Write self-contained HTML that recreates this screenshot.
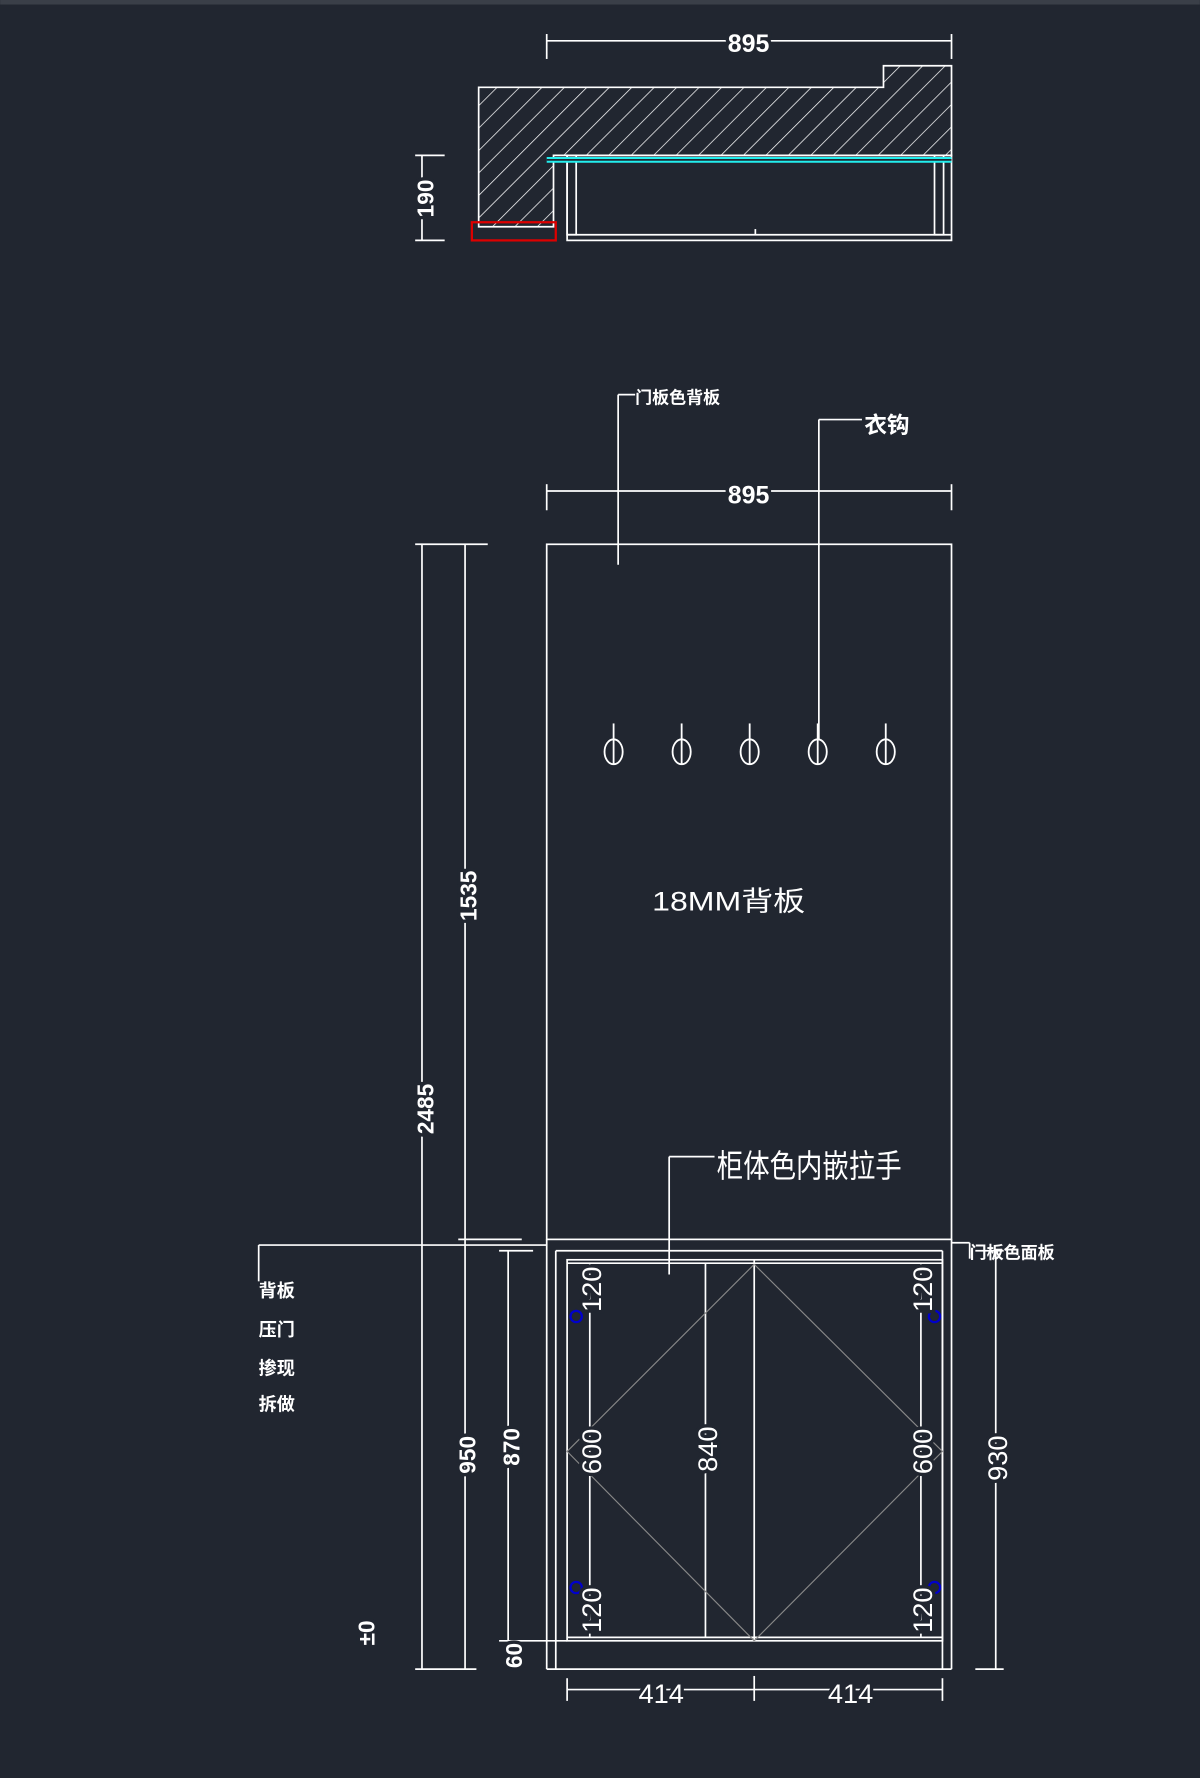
<!DOCTYPE html>
<html><head><meta charset="utf-8"><style>
html,body{margin:0;padding:0;background:#212630;}
svg{display:block}
text{font-family:"Liberation Sans","Noto Sans CJK SC",sans-serif;fill:#fff}
</style></head><body>
<svg width="1200" height="1778" viewBox="0 0 1058 1568" xmlns="http://www.w3.org/2000/svg">
<defs>
<pattern id="h" width="14" height="14" patternUnits="userSpaceOnUse" patternTransform="rotate(45)">
<line x1="0" y1="0" x2="0" y2="14" stroke="#fff" stroke-width="1.3"/>
</pattern>
</defs>
<rect width="1058" height="1568" fill="#212630"/>
<rect x="0" y="0" width="1058" height="4" fill="#3a3f48"/>
<g stroke="#fff" stroke-width="1.5" fill="none">
<line x1="482" y1="36" x2="839" y2="36"/>
<line x1="482" y1="30" x2="482" y2="52"/><line x1="839" y1="30" x2="839" y2="52"/>
<path d="M422 77 H779 V58 H839 V137 H488 V200 H422 Z" fill="url(#h)"/>
<line x1="372" y1="137" x2="372" y2="212"/>
<line x1="366" y1="137" x2="392" y2="137"/><line x1="366" y1="212" x2="392" y2="212"/>
<rect x="500" y="137" width="339" height="75"/>
<rect x="500" y="137" width="8" height="70"/>
<rect x="824" y="137" width="8" height="70"/>
<line x1="500" y1="207" x2="839" y2="207"/>
<line x1="666" y1="202" x2="666" y2="207"/>
<line x1="545" y1="348" x2="560" y2="348"/><line x1="545" y1="348" x2="545" y2="498"/>
<line x1="722" y1="370" x2="760" y2="370"/><line x1="722" y1="370" x2="722" y2="660"/>
<line x1="482" y1="433" x2="839" y2="433"/>
<line x1="482" y1="427" x2="482" y2="450"/><line x1="839" y1="427" x2="839" y2="450"/>
<rect x="482" y="480" width="357" height="613"/>
<line x1="482" y1="1093" x2="482" y2="1472"/>
<line x1="839" y1="1093" x2="839" y2="1472"/>
<line x1="482" y1="1472" x2="839" y2="1472"/>
<line x1="228" y1="1098" x2="482" y2="1098"/><line x1="228" y1="1098" x2="228" y2="1130"/>
<line x1="490" y1="1103" x2="831" y2="1103"/>
<line x1="839" y1="1096" x2="855" y2="1096"/><line x1="855" y1="1096" x2="855" y2="1110"/>
<line x1="490" y1="1103" x2="490" y2="1472"/>
<line x1="831" y1="1103" x2="831" y2="1472"/>
<rect x="500" y="1111" width="331" height="336"/>
<line x1="500" y1="1114" x2="831" y2="1114"/>
<line x1="500" y1="1444" x2="831" y2="1444"/>
<line x1="665" y1="1111" x2="665" y2="1447"/>
<line x1="590" y1="1020" x2="630" y2="1020"/><line x1="590" y1="1020" x2="590" y2="1124"/>
<line x1="372" y1="480" x2="372" y2="1472"/>
<line x1="366" y1="480" x2="430" y2="480"/>
<line x1="410" y1="480" x2="410" y2="1472"/>
<line x1="366" y1="1472" x2="420" y2="1472"/>
<line x1="404" y1="1093" x2="460" y2="1093"/>
<line x1="448" y1="1103" x2="448" y2="1472"/>
<line x1="440" y1="1103" x2="470" y2="1103"/>
<line x1="440" y1="1447" x2="500" y2="1447"/>
<line x1="520" y1="1114" x2="520" y2="1444"/>
<line x1="622" y1="1114" x2="622" y2="1444"/>
<line x1="812" y1="1114" x2="812" y2="1444"/>
<line x1="878" y1="1103" x2="878" y2="1472"/>
<line x1="860" y1="1103" x2="885" y2="1103"/>
<line x1="860" y1="1472" x2="885" y2="1472"/>
<line x1="500" y1="1490" x2="831" y2="1490"/>
<line x1="500" y1="1480" x2="500" y2="1500"/><line x1="665" y1="1478" x2="665" y2="1500"/><line x1="831" y1="1480" x2="831" y2="1500"/>
</g>
<line x1="482" y1="141" x2="839" y2="141" stroke="#2ee" stroke-width="5"/>
<line x1="482" y1="141" x2="839" y2="141" stroke="#212630" stroke-width="1.5"/>
<rect x="416" y="196" width="74" height="16" fill="none" stroke="#d00" stroke-width="2"/>
<g stroke="#888" stroke-width="1" fill="none">
<path d="M665 1115 L500 1280 L665 1447"/>
<path d="M665 1115 L831 1280 L665 1447"/>
</g>
<g fill="none" stroke="#00c" stroke-width="2">
<circle cx="508" cy="1161" r="5"/><circle cx="824" cy="1161" r="5"/>
<circle cx="508" cy="1400" r="5"/><circle cx="824" cy="1400" r="5"/>
</g>
<g fill="#212630" stroke="#fff" stroke-width="1.6">
<ellipse cx="541" cy="663" rx="8" ry="11"/><line x1="541" y1="638" x2="541" y2="674"/>
<ellipse cx="601" cy="663" rx="8" ry="11"/><line x1="601" y1="638" x2="601" y2="674"/>
<ellipse cx="661" cy="663" rx="8" ry="11"/><line x1="661" y1="638" x2="661" y2="674"/>
<ellipse cx="721" cy="663" rx="8" ry="11"/><line x1="721" y1="638" x2="721" y2="674"/>
<ellipse cx="781" cy="663" rx="8" ry="11"/><line x1="781" y1="638" x2="781" y2="674"/>
</g>
<g font-weight="bold" font-size="22">
<text x="660" y="46" text-anchor="middle" style="paint-order:stroke" stroke="#212630" stroke-width="6">895</text>
<text x="660" y="444" text-anchor="middle" style="paint-order:stroke" stroke="#212630" stroke-width="6">895</text>
</g>
<g font-size="20" font-weight="bold" style="paint-order:stroke" stroke="#212630" stroke-width="6">
<text transform="translate(382,175) rotate(-90)" text-anchor="middle">190</text>
<text transform="translate(382,978) rotate(-90)" text-anchor="middle">2485</text>
<text transform="translate(420,790) rotate(-90)" text-anchor="middle">1535</text>
<text transform="translate(419,1283) rotate(-90)" text-anchor="middle">950</text>
<text transform="translate(458,1276) rotate(-90)" text-anchor="middle">870</text>
<text transform="translate(460,1460) rotate(-90)" text-anchor="middle">60</text>
<text transform="translate(330,1440) rotate(-90)" text-anchor="middle">±0</text>
</g>
<g font-size="24" style="paint-order:stroke" stroke="#212630" stroke-width="6">
<text transform="translate(530,1137) rotate(-90)" text-anchor="middle">120</text>
<text transform="translate(530,1280) rotate(-90)" text-anchor="middle">600</text>
<text transform="translate(530,1420) rotate(-90)" text-anchor="middle">120</text>
<text transform="translate(632,1278) rotate(-90)" text-anchor="middle">840</text>
<text transform="translate(822,1137) rotate(-90)" text-anchor="middle">120</text>
<text transform="translate(822,1280) rotate(-90)" text-anchor="middle">600</text>
<text transform="translate(822,1420) rotate(-90)" text-anchor="middle">120</text>
<text transform="translate(888,1286) rotate(-90)" text-anchor="middle">930</text>
<text x="583" y="1502" text-anchor="middle">414</text>
<text x="750" y="1502" text-anchor="middle">414</text>
</g>
<text x="560" y="356" font-size="15" font-weight="bold">门板色背板</text>
<text x="762" y="382" font-size="20" font-weight="bold">衣钩</text>
<text x="575" y="803" font-size="24" textLength="135" lengthAdjust="spacingAndGlyphs">18MM背板</text>
<text x="632" y="1038" font-size="28" textLength="163" lengthAdjust="spacingAndGlyphs">柜体色内嵌拉手</text>
<text x="855" y="1110" font-size="15" font-weight="bold">门板色面板</text>
<g font-size="16" font-weight="bold">
<text x="228" y="1144">背板</text>
<text x="228" y="1178">压门</text>
<text x="228" y="1212">掺现</text>
<text x="228" y="1244">拆做</text>
</g>
</svg>
</body></html>
